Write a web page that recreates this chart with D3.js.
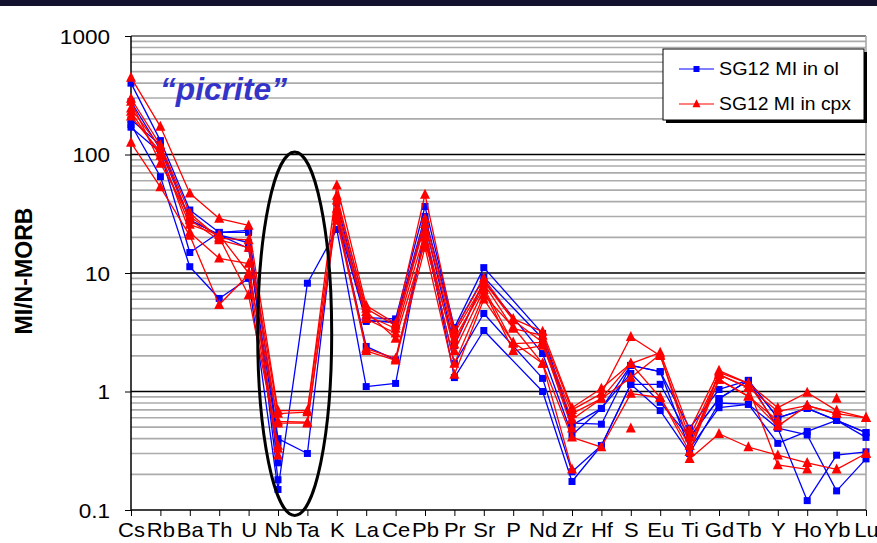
<!DOCTYPE html>
<html>
<head>
<meta charset="utf-8">
<script src="https://cdn.jsdelivr.net/npm/d3@7"></script>
<style>
  body { margin: 0; background: #fff; }
  svg { display: block; }
</style>
</head>
<body>
<svg id="chart" width="877" height="543"></svg>
<script>
// Elements along the x axis (N-MORB normalised spider diagram)
const elements = ["Cs","Rb","Ba","Th","U","Nb","Ta","K","La","Ce","Pb","Pr","Sr","P","Nd","Zr","Hf","S","Eu","Ti","Gd","Tb","Y","Ho","Yb","Lu"];

// Melt inclusions hosted in olivine (null = not reported)
const olSeries = [
  [400,131,34,22,22.9,0.40,0.30,39,4.2,4.1,36.4,3.46,11.1,null,3.08,0.54,0.53,1.66,1.47,0.49,1.04,1.24,0.60,0.72,0.57,0.41],
  [280,110,28,21,16.1,0.37,null,32,4.0,3.8,30,3.3,9.2,null,2.8,0.52,0.72,1.42,0.81,0.41,0.87,1.24,0.49,0.12,0.29,0.31],
  [197,120,28,21,18,0.25,null,28.8,3.9,3.9,26,2.44,8.5,null,2.09,0.43,0.72,1.66,1.47,0.33,0.73,0.78,0.365,0.46,0.57,0.45],
  [179,65,11.3,6.1,9.0,0.149,8.2,23.3,1.1,1.17,23.8,1.31,3.27,null,1.0,0.174,0.35,1.15,0.69,0.30,0.80,0.78,0.49,0.43,0.145,0.27],
  [170,104,14.9,22,22,0.18,null,30,2.4,1.85,20,1.72,4.55,null,1.29,0.21,0.35,1.15,1.15,0.41,0.87,1.24,0.60,0.72,0.57,0.45]
];

// Melt inclusions hosted in clinopyroxene
const cpxSeries = [
  [447,172,47,28.8,25.2,0.69,0.69,55,5.3,3.75,46,3.27,9.0,4.1,3.2,0.73,1.06,1.72,2.13,0.47,1.5,1.17,0.73,0.98,0.69,0.60],
  [297,120,32,19.6,19,0.65,0.67,41,5.0,3.6,28.8,3.1,8.15,3.4,2.97,0.70,0.96,2.9,2.0,0.41,1.39,1.08,0.68,0.76,0.65,0.60],
  [245,114,28,19,16.4,0.54,0.54,35,4.4,3.4,26,2.8,7.5,2.54,2.6,0.65,0.87,1.31,2.05,0.35,1.26,0.91,0.57,null,0.87,null],
  [230,98,25.6,21,10,0.56,0.55,31.9,4.1,3.1,22,2.2,7.2,2.2,2.44,0.58,0.87,1.72,0.89,0.31,1.45,1.17,0.51,0.76,0.65,null],
  [280,84,30,20,6.5,0.35,null,45,4.7,2.8,18,2.5,8.5,4.0,2.6,0.49,null,null,null,0.27,0.44,0.34,0.29,0.25,0.22,0.30],
  [210,105,22,13.3,12,0.33,null,30,2.3,1.9,20,1.72,6.5,3.5,1.72,0.41,0.34,0.96,0.89,0.35,1.39,1.08,0.24,0.22,null,null],
  [126,53,20.7,5.4,9.7,0.29,null,27.7,2.2,1.83,16.4,1.39,6.0,2.6,1.72,0.22,null,0.49,null,0.31,1.26,0.91,0.51,null,null,0.30]
];

// P was not analysed in the olivine-hosted inclusions, so their lines run straight across that column
const olBridged = ["P"];
const cpxBridged = [];

const seriesNames = ["SG12 MI in ol", "SG12 MI in cpx"];
const seriesColors = ["#0000ff", "#ff0000"];

const yTicks = [0.1, 1, 10, 100, 1000];
const yTickLabels = ["0.1", "1", "10", "100", "1000"];
const yMinor = [2,3,4,5,6,7,8,9];
const yTitle = "MI/N-MORB";
const sampleNote = "\u201Cpicrite\u201D";

const svg = d3.select("#chart");
const FONT = "'Liberation Sans', Arial, sans-serif";
const SX = 1.1; // horizontal stretch of the axis lettering

const plot = { left: 131, right: 866, top: 36, bottom: 510 };
const x = d3.scalePoint().domain(elements).range([plot.left, plot.right]).padding(0);
const y = d3.scaleLog().domain([0.1, 1000]).range([plot.bottom, plot.top]);

// dark header strip
svg.append("rect").attr("x", 0).attr("y", 0).attr("width", 877).attr("height", 6).attr("fill", "#12122e");

// minor gridlines
const minorVals = [];
for (let e = -1; e < 3; e++) yMinor.forEach(m => minorVals.push(m * Math.pow(10, e)));
svg.append("g").selectAll("line").data(minorVals).join("line")
  .attr("x1", plot.left).attr("x2", plot.right)
  .attr("y1", d => y(d)).attr("y2", d => y(d))
  .attr("stroke", "#ababab").attr("stroke-width", 1.6);

// major gridlines
svg.append("g").selectAll("line").data([1, 10, 100]).join("line")
  .attr("x1", plot.left).attr("x2", plot.right)
  .attr("y1", d => y(d)).attr("y2", d => y(d))
  .attr("stroke", "#000").attr("stroke-width", 1.5);

// plot-area frame (top and right)
svg.append("line").attr("x1", plot.left).attr("x2", plot.right)
  .attr("y1", y(1000)).attr("y2", y(1000)).attr("stroke", "#808080").attr("stroke-width", 2.2);
svg.append("line").attr("x1", plot.right).attr("x2", plot.right)
  .attr("y1", plot.top).attr("y2", plot.bottom).attr("stroke", "#a8a8a8").attr("stroke-width", 1.6);

// y axis
const yAxis = d3.axisLeft(y).tickValues(yTicks).tickFormat((d, i) => yTickLabels[i]).tickSize(6).tickPadding(0);
const gy = svg.append("g").attr("transform", `translate(${plot.left},0)`).call(yAxis);
gy.select(".domain").attr("stroke", "#000").attr("stroke-width", 1.5).attr("d", `M0,${plot.top}V${plot.bottom}`);
gy.selectAll(".tick line").attr("stroke", "#000").attr("stroke-width", 1);
gy.selectAll(".tick text")
  .attr("x", 0).attr("dy", null).attr("y", 0)
  .attr("transform", `translate(-21,7) scale(${SX},1)`)
  .attr("text-anchor", "end")
  .attr("font-family", FONT).attr("font-size", 20.5).attr("fill", "#000");

// x axis
const xAxis = d3.axisBottom(x).tickSize(6).tickPadding(0);
const gx = svg.append("g").attr("transform", `translate(0,${plot.bottom})`).call(xAxis);
gx.select(".domain").attr("stroke", "#000").attr("stroke-width", 1.5).attr("d", `M${plot.left},0H${plot.right}`);
gx.selectAll(".tick line").attr("stroke", "#000").attr("stroke-width", 1);
gx.selectAll(".tick text")
  .attr("y", 0).attr("dy", null)
  .attr("transform", `translate(0,27) scale(${SX},1)`)
  .attr("text-anchor", "middle")
  .attr("font-family", FONT).attr("font-size", 20).attr("fill", "#000");

// y axis title
svg.append("text")
  .attr("transform", `translate(32,271) rotate(-90)`)
  .attr("text-anchor", "middle")
  .attr("font-family", FONT).attr("font-size", 23).attr("font-weight", "bold")
  .attr("textLength", 127).attr("lengthAdjust", "spacingAndGlyphs")
  .text(yTitle);

// sample annotation
svg.append("text")
  .attr("x", 160).attr("y", 100)
  .attr("font-family", FONT).attr("font-size", 31).attr("font-weight", "bold").attr("font-style", "italic")
  .attr("fill", "#3434c8")
  .attr("textLength", 127).attr("lengthAdjust", "spacingAndGlyphs")
  .text(sampleNote);

// markers
const squarePath = s => `M${-s/2},${-s/2}h${s}v${s}h${-s}Z`;
const trianglePath = s => `M0,${-s*0.58}L${s/2},${s*0.42}L${-s/2},${s*0.42}Z`;
const markerPaths = [squarePath(7), trianglePath(10)];

const line = d3.line()
  .defined(d => d.v != null)
  .x(d => x(d.el))
  .y(d => y(d.v));

function drawGroup(seriesList, bridged, gi) {
  const g = svg.append("g");
  seriesList.forEach(vals => {
    const pts = elements.map((el, i) => ({ el, v: vals[i] })).filter(p => !bridged.includes(p.el));
    g.append("path").datum(pts)
      .attr("d", line)
      .attr("fill", "none").attr("stroke", seriesColors[gi]).attr("stroke-width", 1.3)
      .attr("stroke-linejoin", "round");
    g.selectAll(null).data(pts.filter(p => p.v != null)).join("path")
      .attr("d", markerPaths[gi])
      .attr("transform", d => `translate(${x(d.el)},${y(d.v)})`)
      .attr("fill", seriesColors[gi]);
  });
}
drawGroup(olSeries, olBridged, 0);
drawGroup(cpxSeries, cpxBridged, 1);

// outline around Nb–Ta
const nbTaMid = (x("Nb") + x("Ta")) / 2;
const eTop = y(105), eBot = y(0.09);
svg.append("ellipse")
  .attr("cx", nbTaMid + 2).attr("cy", (eTop + eBot) / 2)
  .attr("rx", 37).attr("ry", (eBot - eTop) / 2)
  .attr("fill", "none").attr("stroke", "#000").attr("stroke-width", 3);

// legend
const lg = svg.append("g");
lg.append("rect").attr("x", 666).attr("y", 52).attr("width", 201).attr("height", 71).attr("fill", "#000");
lg.append("rect").attr("x", 663).attr("y", 49).attr("width", 201).attr("height", 71)
  .attr("fill", "#fff").attr("stroke", "#000").attr("stroke-width", 1);
seriesNames.forEach((name, i) => {
  const ly = 69 + i * 35;
  lg.append("line").attr("x1", 679).attr("x2", 714).attr("y1", ly).attr("y2", ly)
    .attr("stroke", seriesColors[i]).attr("stroke-width", 1.2);
  lg.append("path").attr("d", i === 0 ? squarePath(6) : trianglePath(8))
    .attr("transform", `translate(696.5,${ly})`).attr("fill", seriesColors[i]);
  lg.append("text").attr("x", 719).attr("y", ly + 6)
    .attr("font-family", FONT).attr("font-size", 18.5)
    .attr("textLength", i === 0 ? 120 : 132).attr("lengthAdjust", "spacingAndGlyphs")
    .text(name);
});
</script>
</body>
</html>
